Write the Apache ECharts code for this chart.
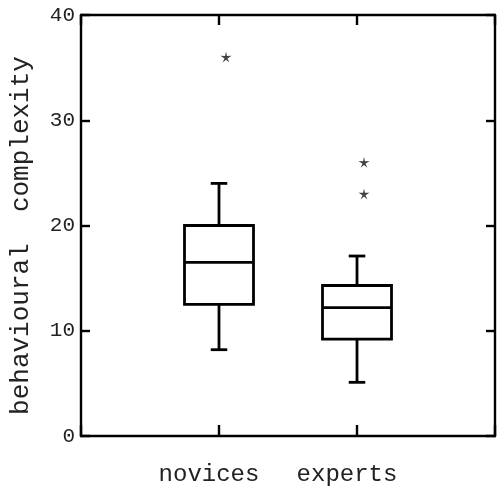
<!DOCTYPE html>
<html>
<head>
<meta charset="utf-8">
<script src="https://cdn.jsdelivr.net/npm/echarts@6/dist/echarts.min.js"></script>
<style>
html,body{margin:0;padding:0;background:#fff;}
#chart{width:498px;height:490px;}
</style>
</head>
<body>
<div id="chart"></div>
<script>
// ---- data ----
const categories = ['novices', 'experts'];
const whiskerLow  = [8.2, 5.1];
const q1          = [12.5, 9.2];
const median      = [16.5, 12.2];
const q3          = [20, 14.3];
const whiskerHigh = [24, 17.1];
const outlierGroup = [0, 1, 1];
const outlierValue = [36, 26, 23];
const yTicks = [0, 10, 20, 30, 40];
const yTitle = 'behavioural  complexity';

// ---- build ----
const boxData = categories.map((c, i) => [i + 1, whiskerLow[i], q1[i], median[i], q3[i], whiskerHigh[i]]);
const outlierData = outlierValue.map((v, i) => [outlierGroup[i] + 1, v]);
const starPath = 'path://M50 0 L58 36 L97.55 34.55 L63 56 L79.39 90.45 L50 66 L20.61 90.45 L37 56 L2.45 34.55 L42 36 Z';

const FONT = 'Liberation Mono';
const lineStyle = { color: '#000', width: 2.4 };

const chart = echarts.init(document.getElementById('chart'));
chart.setOption({
  animation: false,
  backgroundColor: '#fff',
  grid: { left: 80, right: 1, top: 15, bottom: 54 },
  xAxis: [
    {
      type: 'value', position: 'bottom', min: 0, max: 3, interval: 1,
      axisLine: { show: true, lineStyle: lineStyle },
      axisTick: { show: true, inside: true, length: 11, lineStyle: lineStyle },
      splitLine: { show: false },
      axisLabel: {
        margin: 27, color: '#222', fontFamily: FONT, fontSize: 24,
        padding: [0, 20, 0, 0],
        formatter: v => (v >= 1 && v <= categories.length && Number.isInteger(v)) ? categories[v - 1] : ''
      }
    },
    {
      type: 'value', position: 'top', min: 0, max: 3, interval: 1,
      axisLine: { show: true, onZero: false, lineStyle: lineStyle },
      axisTick: { show: true, inside: true, length: 10, lineStyle: lineStyle },
      splitLine: { show: false },
      axisLabel: { show: false }
    }
  ],
  yAxis: [
    {
      type: 'value', position: 'left', min: yTicks[0], max: yTicks[yTicks.length - 1], interval: 10,
      axisLine: { show: true, lineStyle: lineStyle },
      axisTick: { show: true, inside: true, length: 9, lineStyle: lineStyle },
      splitLine: { show: false },
      axisLabel: { margin: 6, color: '#222', fontFamily: FONT, fontSize: 21 },
      name: yTitle, nameLocation: 'middle', nameGap: 47, nameRotate: 90,
      nameTextStyle: { color: '#222', fontFamily: FONT, fontSize: 26, padding: [0, 20, 0, 0] }
    },
    {
      type: 'value', position: 'right', min: yTicks[0], max: yTicks[yTicks.length - 1], interval: 10,
      axisLine: { show: true, onZero: false, lineStyle: lineStyle },
      axisTick: { show: true, inside: true, length: 9, lineStyle: lineStyle },
      splitLine: { show: false },
      axisLabel: { show: false }
    }
  ],
  series: [
    {
      type: 'custom',
      xAxisIndex: 0, yAxisIndex: 0,
      data: boxData,
      renderItem: function (params, api) {
        const x = api.value(0);
        const boxW = api.size([0.5, 0])[0];
        const capW = api.size([0.12, 0])[0];
        const pLow = api.coord([x, api.value(1)]);
        const pQ1 = api.coord([x, api.value(2)]);
        const pMed = api.coord([x, api.value(3)]);
        const pQ3 = api.coord([x, api.value(4)]);
        const pHigh = api.coord([x, api.value(5)]);
        const cx = pLow[0];
        const st = { stroke: '#000', lineWidth: 2.8, fill: null };
        return {
          type: 'group',
          children: [
            { type: 'rect', shape: { x: cx - boxW / 2, y: pQ3[1], width: boxW, height: pQ1[1] - pQ3[1] }, style: { stroke: '#000', lineWidth: 2.8, fill: 'none' } },
            { type: 'line', shape: { x1: cx - boxW / 2, y1: pMed[1], x2: cx + boxW / 2, y2: pMed[1] }, style: st },
            { type: 'line', shape: { x1: cx, y1: pQ3[1], x2: cx, y2: pHigh[1] }, style: st },
            { type: 'line', shape: { x1: cx, y1: pQ1[1], x2: cx, y2: pLow[1] }, style: st },
            { type: 'line', shape: { x1: cx - capW / 2, y1: pHigh[1], x2: cx + capW / 2, y2: pHigh[1] }, style: st },
            { type: 'line', shape: { x1: cx - capW / 2, y1: pLow[1], x2: cx + capW / 2, y2: pLow[1] }, style: st }
          ]
        };
      }
    },
    {
      type: 'scatter',
      xAxisIndex: 0, yAxisIndex: 0,
      data: outlierData,
      symbol: starPath,
      symbolSize: 11,
      symbolOffset: [7, 0],
      itemStyle: { color: '#111' }
    }
  ]
});
</script>
</body>
</html>
